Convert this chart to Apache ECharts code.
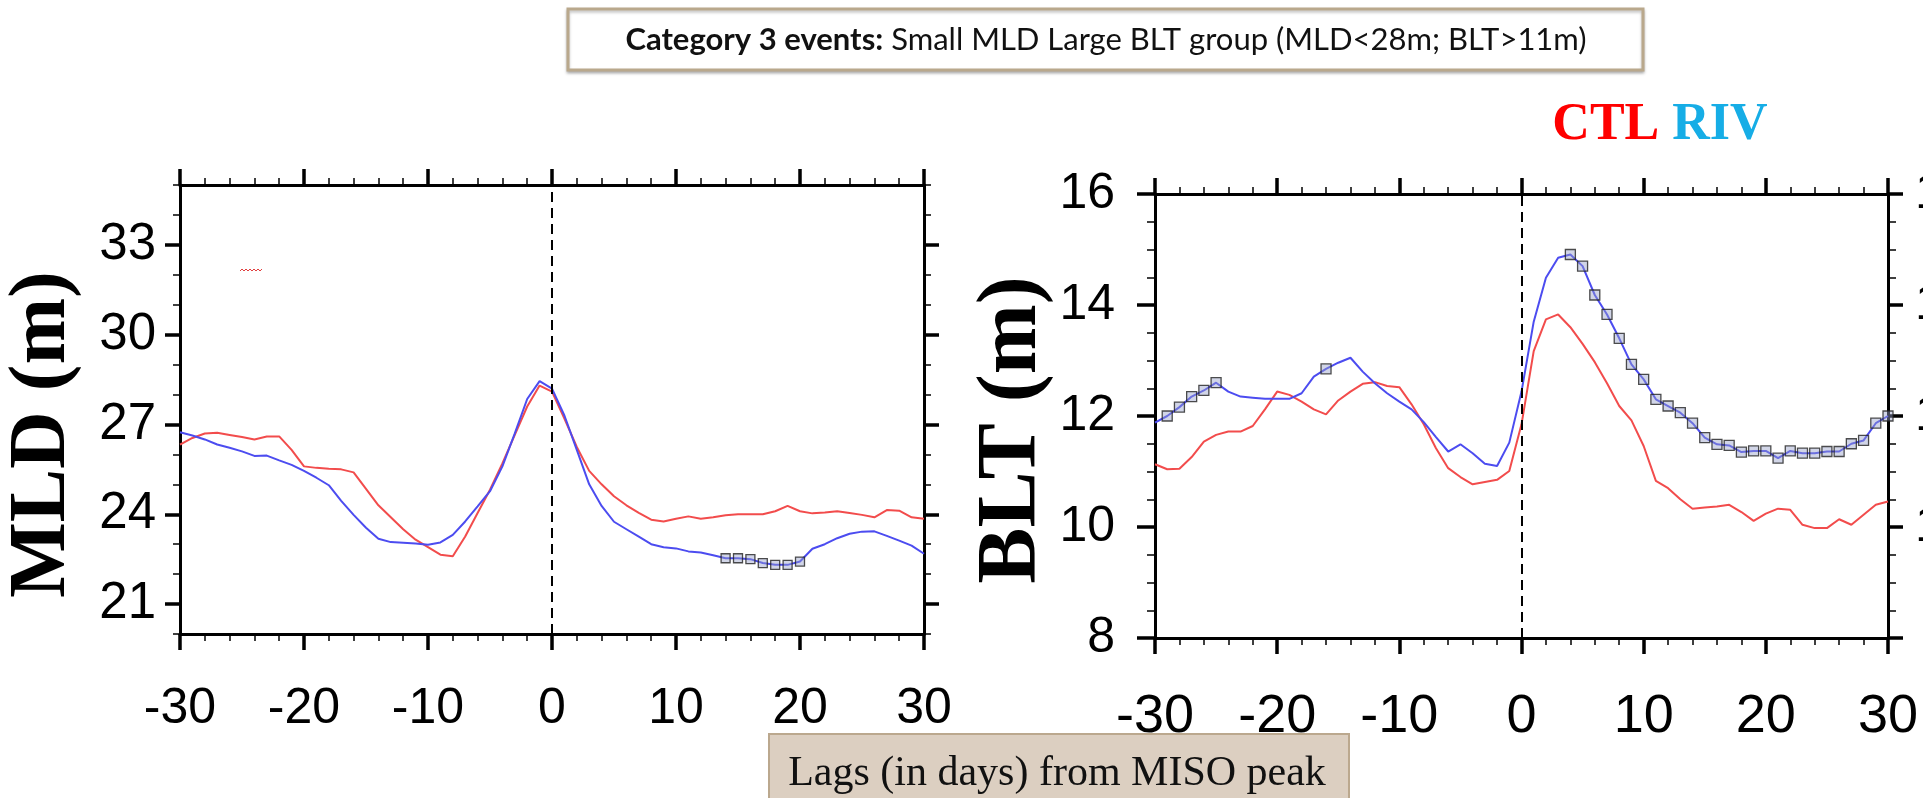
<!DOCTYPE html>
<html><head><meta charset="utf-8">
<script src="https://cdn.jsdelivr.net/npm/echarts@6/dist/echarts.min.js"></script>
<style>html,body{margin:0;padding:0;background:#fff;overflow:hidden}#c{width:1923px;height:798px}</style>
</head><body><div id="c"></div>
<script>
// ---------- data ----------
const lags = [-30,-29,-28,-27,-26,-25,-24,-23,-22,-21,-20,-19,-18,-17,-16,-15,-14,-13,-12,-11,-10,-9,-8,-7,-6,-5,-4,-3,-2,-1,0,1,2,3,4,5,6,7,8,9,10,11,12,13,14,15,16,17,18,19,20,21,22,23,24,25,26,27,28,29,30];
const mldCTL = [26.33,26.55,26.7,26.72,26.65,26.58,26.5,26.6,26.6,26.15,25.6,25.55,25.52,25.5,25.4,24.85,24.3,23.9,23.5,23.15,22.9,22.65,22.6,23.26,24.04,24.82,25.7,26.65,27.6,28.3,28.1,27.2,26.25,25.45,25.0,24.6,24.3,24.05,23.82,23.76,23.85,23.93,23.85,23.9,23.97,24.0,24.0,24.0,24.1,24.28,24.1,24.03,24.06,24.1,24.04,23.98,23.9,24.14,24.12,23.9,23.85];
const mldRIV = [26.74,26.63,26.5,26.33,26.22,26.1,25.95,25.96,25.8,25.65,25.45,25.22,24.97,24.45,23.98,23.55,23.18,23.07,23.05,23.02,22.98,23.06,23.31,23.76,24.26,24.77,25.6,26.7,27.85,28.45,28.2,27.3,26.15,25.0,24.28,23.75,23.5,23.25,23.0,22.9,22.86,22.76,22.72,22.63,22.53,22.53,22.5,22.37,22.31,22.31,22.42,22.85,23.0,23.2,23.35,23.42,23.43,23.28,23.12,22.95,22.68];
const bltCTL = [11.13,11.04,11.05,11.26,11.54,11.66,11.72,11.72,11.82,12.12,12.44,12.38,12.26,12.12,12.03,12.28,12.44,12.58,12.61,12.54,12.52,12.21,11.85,11.42,11.06,10.9,10.77,10.81,10.85,11.01,11.85,13.17,13.74,13.83,13.6,13.3,12.97,12.59,12.18,11.92,11.46,10.83,10.7,10.5,10.33,10.35,10.37,10.4,10.27,10.11,10.24,10.33,10.31,10.04,9.98,9.98,10.14,10.04,10.22,10.4,10.46];
const bltRIV = [11.88,12.0,12.16,12.35,12.46,12.6,12.44,12.35,12.33,12.31,12.31,12.31,12.41,12.71,12.85,12.96,13.05,12.8,12.59,12.41,12.26,12.12,11.89,11.62,11.36,11.49,11.33,11.14,11.1,11.52,12.44,13.7,14.49,14.85,14.91,14.7,14.18,13.83,13.4,12.93,12.66,12.3,12.18,12.06,11.87,11.61,11.49,11.47,11.35,11.37,11.37,11.24,11.37,11.33,11.33,11.36,11.36,11.5,11.56,11.87,12.0];
const mldMarkerLags = [14,15,16,17,18,19,20];
const bltMarkerLags = [-29,-28,-27,-26,-25,-16,4,5,6,7,8,9,10,11,12,13,14,15,16,17,18,19,20,21,22,23,24,25,26,27,28,29,30];
const mldTicks = [21,24,27,30,33];
const bltTicks = [8,10,12,14,16];
const bltRightLabels = [10,12,14,16];
const xTickLabels = [-30,-20,-10,0,10,20,30];
const titleBold = 'Category 3 events:';
const titleRest = ' Small MLD Large BLT group (MLD<28m; BLT>11m)';
const xName = 'Lags (in days) from MISO peak';

// ---------- helpers ----------
const pairs = (vals) => lags.map((d, i) => [d, vals[i]]);
const marks = (days, vals) => days.map(d => [d, vals[lags.indexOf(d)]]);
const BLACK = '#000';
const SANS = 'Liberation Sans, Arial, sans-serif';
const SERIF = 'Liberation Serif, Times New Roman, serif';

function xAxisDef(grid, pos, showLabel, fs, margin) {
  return {
    type: 'value', gridIndex: grid, position: pos,
    min: xTickLabels[0], max: xTickLabels[xTickLabels.length - 1], interval: 10,
    axisLine: { show: true, onZero: false, lineStyle: { color: BLACK, width: 3 } },
    axisTick: { show: true, inside: false, length: 16, lineStyle: { color: BLACK, width: 3.5 } },
    minorTick: { show: true, splitNumber: 5, length: 7, lineStyle: { color: BLACK, width: 1.5 } },
    axisLabel: { show: showLabel, fontSize: fs, margin: margin, color: BLACK, fontFamily: SANS,
                 customValues: xTickLabels },
    splitLine: { show: false }, minorSplitLine: { show: false }
  };
}
function yMinor(grid, pos, min, max) {
  return { type: 'value', gridIndex: grid, position: pos, min: min, max: max, interval: 1,
    axisLine: { show: false, onZero: false }, axisLabel: { show: false }, splitLine: { show: false },
    axisTick: { show: true, length: 7, lineStyle: { color: BLACK, width: 1.5 } } };
}

const colCTL = '#f24c4c';
const colRIV = '#4c4cf0';

const option = {
  animation: false,
  backgroundColor: '#fff',
  grid: [
    { left: 180, top: 185, width: 744, height: 449, containLabel: false, outerBoundsMode: 'none' },
    { left: 1155, top: 194, width: 733, height: 444, containLabel: false, outerBoundsMode: 'none' }
  ],
  xAxis: [
    xAxisDef(0, 'bottom', true, 50, 50),
    xAxisDef(0, 'top', false, 50, 8),
    xAxisDef(1, 'bottom', true, 54, 52),
    xAxisDef(1, 'top', false, 54, 8)
  ],
  yAxis: [
    { // MLD left main
      type: 'value', gridIndex: 0, position: 'left', min: 20, max: 35, interval: 1,
      name: 'MLD (m)', nameLocation: 'middle', nameGap: 97, nameRotate: 90,
      nameTextStyle: { fontSize: 80, fontFamily: SERIF, fontWeight: 'bold', color: BLACK, padding: [0, 50, 0, 0] },
      axisLine: { show: true, onZero: false, lineStyle: { color: BLACK, width: 3 } },
      axisTick: { show: true, length: 15, customValues: mldTicks, lineStyle: { color: BLACK, width: 3.5 } },
      axisLabel: { show: true, customValues: mldTicks, fontSize: 51, margin: 24, color: BLACK, fontFamily: SANS },
      splitLine: { show: false }
    },
    yMinor(0, 'left', 20, 35),
    { // MLD right main
      type: 'value', gridIndex: 0, position: 'right', min: 20, max: 35, interval: 1,
      axisLine: { show: true, onZero: false, lineStyle: { color: BLACK, width: 3 } },
      axisTick: { show: true, length: 15, customValues: mldTicks, lineStyle: { color: BLACK, width: 3.5 } },
      axisLabel: { show: false }, splitLine: { show: false }
    },
    yMinor(0, 'right', 20, 35),
    { // BLT left
      type: 'value', gridIndex: 1, position: 'left', min: bltTicks[0], max: bltTicks[bltTicks.length - 1], interval: 2,
      name: 'BLT (m)', nameLocation: 'middle', nameGap: 88, nameRotate: 90,
      nameTextStyle: { fontSize: 84, fontFamily: SERIF, fontWeight: 'bold', color: BLACK, padding: [0, 28, 0, 0] },
      axisLine: { show: true, onZero: false, lineStyle: { color: BLACK, width: 3 } },
      axisTick: { show: true, length: 18, lineStyle: { color: BLACK, width: 3.5 } },
      minorTick: { show: true, splitNumber: 4, length: 8, lineStyle: { color: BLACK, width: 1.5 } },
      axisLabel: { show: true, fontSize: 50, margin: 40, color: BLACK, fontFamily: SANS },
      splitLine: { show: false }, minorSplitLine: { show: false }
    },
    { // BLT right
      type: 'value', gridIndex: 1, position: 'right', min: bltTicks[0], max: bltTicks[bltTicks.length - 1], interval: 2,
      axisLine: { show: true, onZero: false, lineStyle: { color: BLACK, width: 3 } },
      axisTick: { show: true, length: 15, lineStyle: { color: BLACK, width: 3.5 } },
      minorTick: { show: true, splitNumber: 4, length: 8, lineStyle: { color: BLACK, width: 1.5 } },
      axisLabel: { show: true, customValues: bltRightLabels, fontSize: 50, margin: 27, color: BLACK, fontFamily: SANS },
      splitLine: { show: false }, minorSplitLine: { show: false }
    }
  ],
  series: [
    { name: 'CTL', type: 'line', xAxisIndex: 0, yAxisIndex: 0, data: pairs(mldCTL),
      symbol: 'none', lineStyle: { color: colCTL, width: 2 }, z: 3 },
    { name: 'RIV', type: 'line', xAxisIndex: 0, yAxisIndex: 0, data: pairs(mldRIV),
      symbol: 'none', lineStyle: { color: colRIV, width: 2 }, z: 4,
      markLine: { silent: true, symbol: ['none', 'none'], label: { show: false }, z: 10,
        lineStyle: { color: BLACK, width: 2, type: [10, 6] }, data: [{ xAxis: 0 }] } },
    { name: 'RIV sig', type: 'scatter', xAxisIndex: 0, yAxisIndex: 0, data: marks(mldMarkerLags, mldRIV),
      symbol: 'rect', symbolSize: 9, z: 6,
      itemStyle: { color: 'rgba(150,160,200,0.55)', borderColor: '#222', borderWidth: 1.3 } },
    { name: 'CTL', type: 'line', xAxisIndex: 2, yAxisIndex: 4, data: pairs(bltCTL),
      symbol: 'none', lineStyle: { color: colCTL, width: 2 }, z: 3 },
    { name: 'RIV', type: 'line', xAxisIndex: 2, yAxisIndex: 4, data: pairs(bltRIV),
      symbol: 'none', lineStyle: { color: colRIV, width: 2 }, z: 4,
      markLine: { silent: true, symbol: ['none', 'none'], label: { show: false }, z: 10,
        lineStyle: { color: BLACK, width: 2, type: [10, 6] }, data: [{ xAxis: 0 }] } },
    { name: 'RIV sig', type: 'scatter', xAxisIndex: 2, yAxisIndex: 4, data: marks(bltMarkerLags, bltRIV),
      symbol: 'rect', symbolSize: 10, z: 6,
      itemStyle: { color: 'rgba(150,160,200,0.55)', borderColor: '#222', borderWidth: 1.3 } }
  ],
  graphic: [
    { type: 'rect', shape: { x: 568, y: 9, width: 1075, height: 61 },
      style: { fill: '#fff', stroke: '#b9a88c', lineWidth: 3, shadowColor: 'rgba(0,0,0,0.25)', shadowBlur: 3, shadowOffsetY: 2 } },
    { type: 'text', x: 1106, y: 40,
      style: { text: '{b|' + titleBold + '}' + titleRest, fontSize: 31, fontFamily: 'Lato, Open Sans, sans-serif',
               fill: '#111', align: 'center', verticalAlign: 'middle',
               rich: { b: { fontWeight: 'bold', fontSize: 31, fontFamily: 'Lato, Open Sans, sans-serif', fill: '#111' } } } },
    { type: 'text', x: 1660, y: 126,
      style: { text: '{c|CTL} {r|RIV}', align: 'center', verticalAlign: 'middle', fontSize: 52, fontFamily: SERIF, fontWeight: 'bold',
               rich: { c: { fill: '#ff0000', fontSize: 52, fontFamily: SERIF, fontWeight: 'bold' },
                       r: { fill: '#16ade6', fontSize: 52, fontFamily: SERIF, fontWeight: 'bold' } } } },
    { type: 'rect', shape: { x: 769, y: 734, width: 580, height: 70 },
      style: { fill: '#dccfc1', stroke: '#bba88e', lineWidth: 2 } },
    { type: 'text', x: 1057, y: 774,
      style: { text: xName, fontSize: 42, fontFamily: SERIF, fill: '#111', align: 'center', verticalAlign: 'middle' } },
    { type: 'polyline', shape: { points: [[240,271],[242,269],[244,271],[246,269],[248,271],[250,269],[252,271],[254,269],[256,271],[258,269],[260,271],[262,269]] },
      style: { stroke: '#e04040', lineWidth: 1, fill: null } }
  ]
};
const chart = echarts.init(document.getElementById('c'), null, { renderer: 'canvas' });
chart.setOption(option);
</script></body></html>
